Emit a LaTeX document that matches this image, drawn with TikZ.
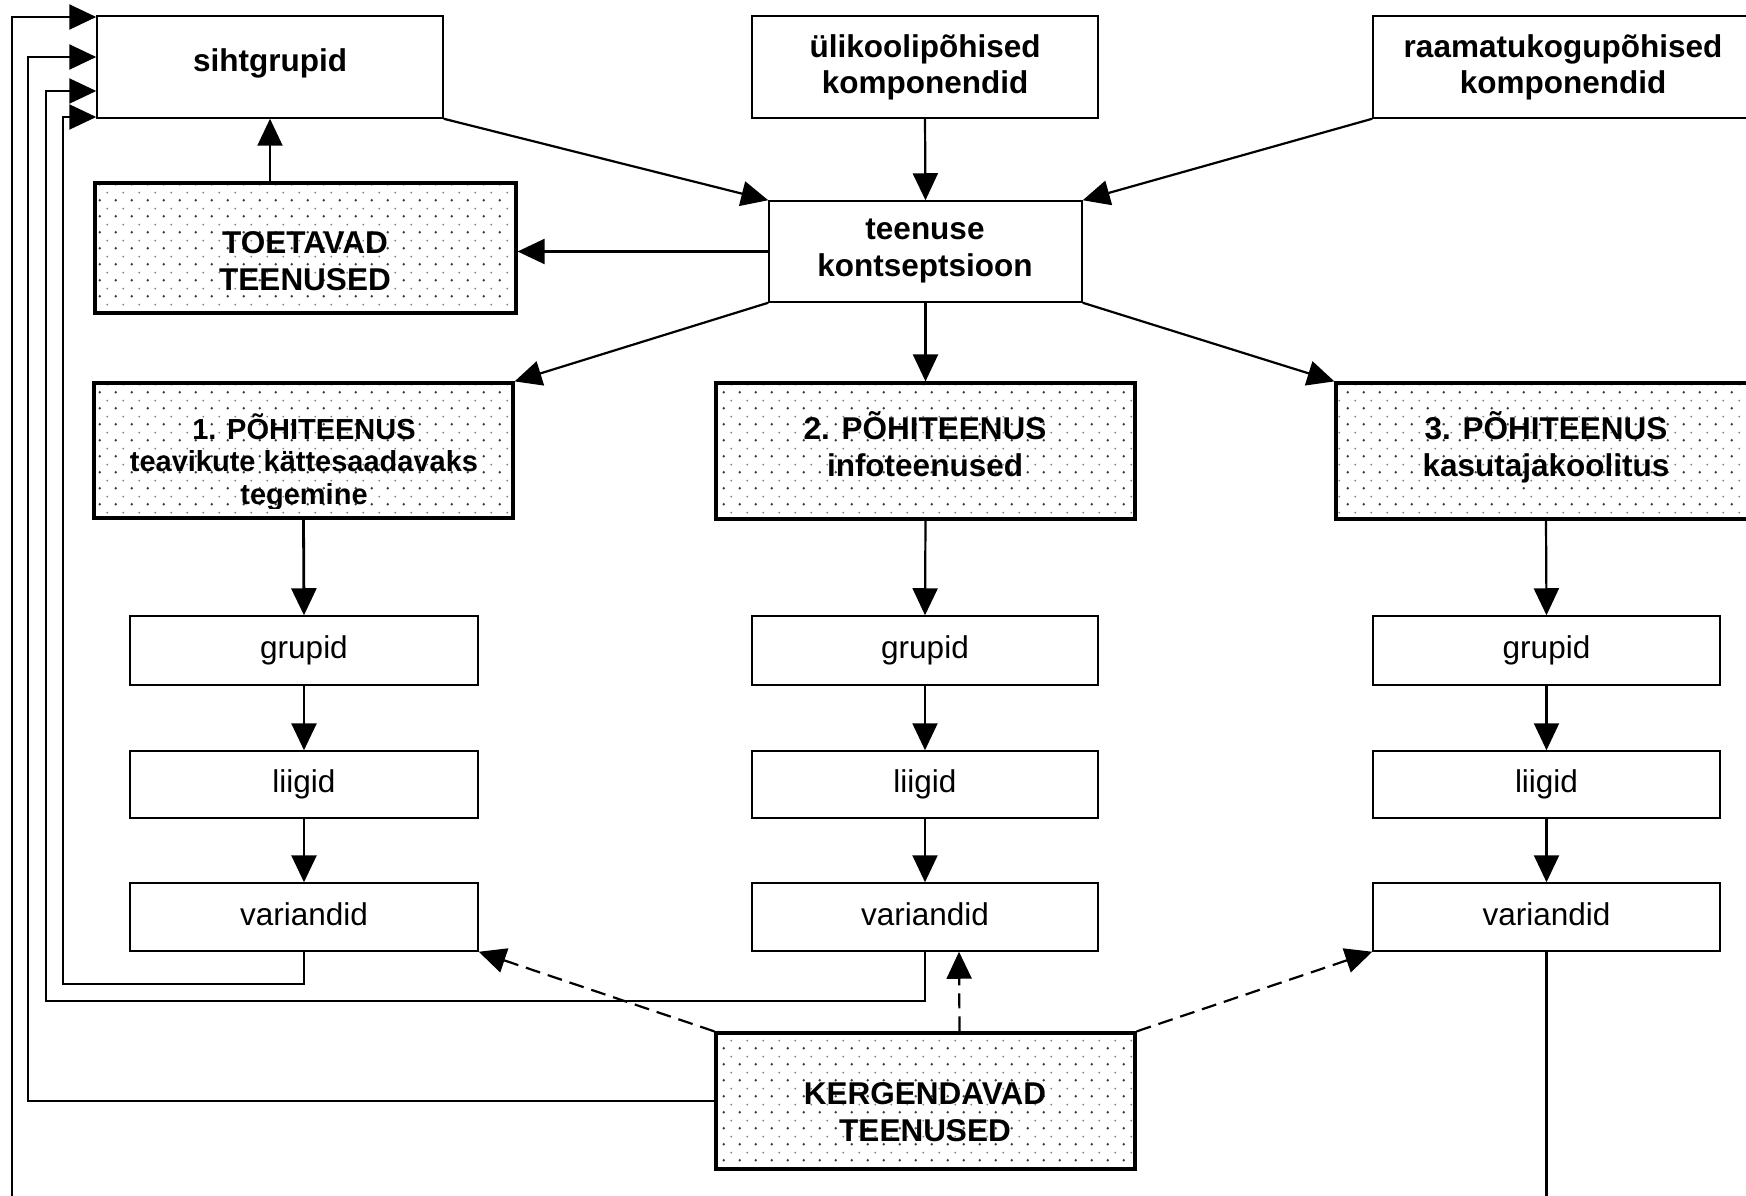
\documentclass[tikz,border=0pt]{standalone}
\usepackage{fontspec}
\setmainfont{Liberation Sans}
\usetikzlibrary{arrows.meta,patterns.meta,calc}

\tikzdeclarepattern{
  name=dotfill,
  type=colored,
  bottom left={(0pt,0pt)},
  top right={(16pt,16pt)},
  tile size={(16pt,16pt)},
  code={
    \fill[black!75] (4pt,4pt) circle[radius=1.4pt];
    \fill[black!50] (12pt,12pt) circle[radius=1.1pt];
  }
}

\begin{document}
\begin{tikzpicture}[x=1pt,y=-1pt,
  plainbox/.style={draw, line width=1.5pt, inner sep=0pt, fill=white,
    font=\fontsize{31.5}{36.5}\selectfont, text height=22.5pt, text depth=6.5pt},
  dotbox/.style={draw, line width=3.2pt, inner sep=0pt, pattern=dotfill},
  btxt/.style={font=\fontsize{31.5}{36.5}\selectfont\bfseries, align=center, anchor=base, inner sep=0pt},
  arr/.style={line width=2.2pt, -{Triangle[length=27pt,width=25pt]}},
  arrthick/.style={arr, line width=2.8pt},
  darr/.style={arr, dash pattern=on 15pt off 8pt},
  fb/.style={arr}
]
\useasboundingbox (0,0) rectangle (1746,1196);
\clip (0,0) rectangle (1746,1196);
\fill[white] (0,0) rectangle (1746,1196);

% top row
\node[plainbox, minimum width=346pt, minimum height=102pt] (siht) at (270,67) {};
\node[plainbox, minimum width=346pt, minimum height=102pt] (uli) at (925,67) {};
\node[plainbox, minimum width=380pt, minimum height=102pt] (raam) at (1563,67) {};

% concept and supporting
\node[plainbox, minimum width=313pt, minimum height=101pt] (teen) at (925.5,251.5) {};
\node[dotbox, minimum width=421pt, minimum height=130pt] (toet) at (305.5,248) {};

% main services
\node[dotbox, minimum width=419pt, minimum height=135pt] (p1) at (303.5,450.5) {};
\node[dotbox, minimum width=419pt, minimum height=136pt] (p2) at (925.5,451) {};
\node[dotbox, minimum width=420pt, minimum height=136pt] (p3) at (1546,451) {};

% columns
\node[plainbox, minimum width=348pt, minimum height=69pt] (g1) at (304,650.5) {grupid};
\node[plainbox, minimum width=348pt, minimum height=67pt] (l1) at (304,784.5) {liigid};
\node[plainbox, minimum width=348pt, minimum height=68pt] (v1) at (304,917) {variandid};

\node[plainbox, minimum width=346pt, minimum height=69pt] (g2) at (925,650.5) {grupid};
\node[plainbox, minimum width=346pt, minimum height=67pt] (l2) at (925,784.5) {liigid};
\node[plainbox, minimum width=346pt, minimum height=68pt] (v2) at (925,917) {variandid};

\node[plainbox, minimum width=347pt, minimum height=69pt] (g3) at (1546.5,650.5) {grupid};
\node[plainbox, minimum width=347pt, minimum height=67pt] (l3) at (1546.5,784.5) {liigid};
\node[plainbox, minimum width=347pt, minimum height=68pt] (v3) at (1546.5,917) {variandid};

% facilitating
\node[dotbox, minimum width=419pt, minimum height=136pt] (kerg) at (925.5,1101) {};

% texts (anchor base = baseline of last line)
\node[btxt] (siht-t) at (270,72) {sihtgrupid};
\node[btxt] (uli-t) at (925,94) {ülikoolipõhised\\komponendid};
\node[btxt] (raam-t) at (1563,94) {raamatukogupõhised\\komponendid};
\node[btxt] (teen-t) at (925,276) {teenuse\\kontseptsioon};
\node[btxt] (toet-t) at (305,290) {TOETAVAD\\TEENUSED};
\begin{scope}
  \clip (94,383) rectangle (513,508);
  \node[btxt, font=\fontsize{29}{32.5}\selectfont\bfseries] (p1-t) at (304,504)
    {1. PÕHITEENUS\\teavikute kättesaadavaks\\tegemine};
\end{scope}
\node[btxt] (p2-t) at (925,476) {2. PÕHITEENUS\\infoteenused};
\node[btxt] (p3-t) at (1546,476) {3. PÕHITEENUS\\kasutajakoolitus};
\node[btxt] (kerg-t) at (925,1141) {KERGENDAVAD\\TEENUSED};

% concept arrows
\draw[arr] (siht.south east) -- (teen.north west);
\draw[arr] (uli.south) -- (teen.north);
\draw[arr] (raam.south west) -- (teen.north east);
\draw[arr] (teen.west) -- (teen.west -| toet.east);
\draw[arr] (siht.south |- toet.north) -- (siht.south);
\draw[arr] (teen.south west) -- (p1.north east);
\draw[arr] (teen.south) -- (p2.north);
\draw[arr] (teen.south east) -- (p3.north west);

% column arrows
\draw[arrthick] (p1.south) -- (g1.north);
\draw[arrthick] (g1.south) -- (l1.north);
\draw[arrthick] (l1.south) -- (v1.north);
\draw[arr] (p2.south) -- (g2.north);
\draw[arr] (g2.south) -- (l2.north);
\draw[arr] (l2.south) -- (v2.north);
\draw[arr] (p3.south) -- (g3.north);
\draw[arr] (g3.south) -- (l3.north);
\draw[arr] (l3.south) -- (v3.north);

% dashed arrows
\draw[darr] (kerg.north west) -- (v1.south east);
\draw[darr] ([xshift=34pt]kerg.north) -- ([xshift=34pt]v2.south);
\draw[darr] (kerg.north east) -- (v3.south west);

% feedback lines to target groups
\draw[fb] (v1.south) |- (63,984) |- (siht.west |- 0,117);
\draw[fb] (v2.south) |- (46,1001) |- (siht.west |- 0,91);
\draw[fb] (kerg.west) -| (28,57) -- (siht.west |- 0,57);
\draw[fb] (v3.south) |- (12,1240) |- (siht.west |- 0,17);
\end{tikzpicture}
\end{document}
